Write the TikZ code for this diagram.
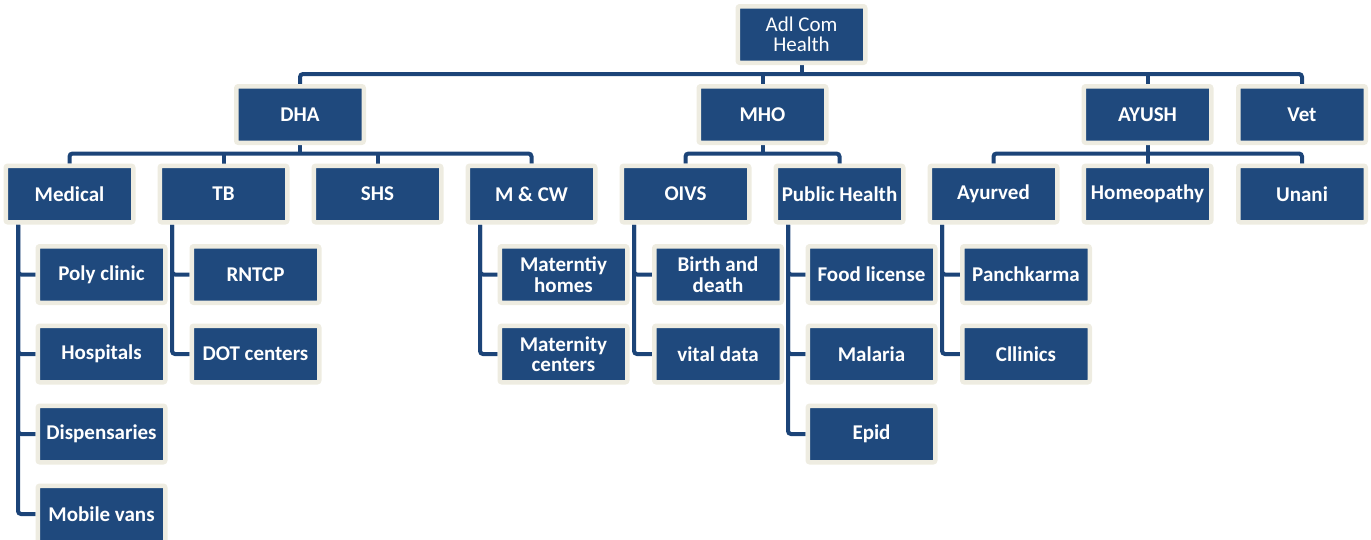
\documentclass[tikz,border=0pt]{standalone}
\usepackage{fontspec}
\setmainfont{Carlito}
\usetikzlibrary{backgrounds,calc}
\definecolor{boxblue}{HTML}{1F497D}
\definecolor{lineblue}{HTML}{1C4478}
\definecolor{cream}{HTML}{EEECE1}
\begin{document}
\begin{tikzpicture}[x=1pt,y=-1pt,
  box/.style={rectangle, rounded corners=2pt, fill=boxblue, draw=cream, line width=4.5pt,
    minimum width=127.5pt, minimum height=56.5pt, inner sep=0pt, text=white,
    font=\fontsize{21}{20.5}\selectfont\bfseries, align=center},
  link/.style={draw=lineblue, line width=4pt, rounded corners=3pt}]
\useasboundingbox (0,0) rectangle (1371,539);
\clip (0,0) rectangle (1371,539);
% root
\node[box, font=\fontsize{21}{20.5}\selectfont] (root) at (801.5,34.5) {Adl Com\\Health};
% level 1
\node[box] (dha) at (300,114.5) {DHA};
\node[box] (mho) at (762.5,114.5) {MHO};
\node[box] (ayush) at (1147.5,114.5) {AYUSH};
\node[box] (vet) at (1302,114.5) {Vet};
% level 2
\node[box] (medical) at (69.5,194) {Medical};
\node[box] (tb) at (223.5,194) {TB};
\node[box] (shs) at (377.5,194) {SHS};
\node[box] (mcw) at (531.5,194) {M \& CW};
\node[box] (oivs) at (685.5,194) {OIVS};
\node[box] (ph) at (839.5,194) {Public Health};
\node[box] (ayurved) at (993.5,194) {Ayurved};
\node[box] (homeo) at (1147.5,194) {Homeopathy};
\node[box] (unani) at (1302,194) {Unani};
% level 3 lists
\node[box] (poly) at (101.5,274.5) {Poly clinic};
\node[box] (hosp) at (101.5,354) {Hospitals};
\node[box] (disp) at (101.5,434) {Dispensaries};
\node[box] (mobile) at (101.5,514) {Mobile vans};
\node[box] (rntcp) at (255.5,274.5) {RNTCP};
\node[box] (dot) at (255.5,354) {DOT centers};
\node[box] (mhomes) at (563.5,274.5) {Materntiy\\homes};
\node[box] (mcent) at (563.5,354) {Maternity\\centers};
\node[box] (birth) at (718,274.5) {Birth and\\death};
\node[box] (vital) at (718,354) {vital data};
\node[box] (food) at (871.5,274.5) {Food license};
\node[box] (malaria) at (871.5,354) {Malaria};
\node[box] (epid) at (871.5,434) {Epid};
\node[box] (panch) at (1026,274.5) {Panchkarma};
\node[box] (clin) at (1026,354) {Cllinics};
\coordinate (bus0) at (801.5,74);
\coordinate (busdha) at (300,153.5);
\coordinate (busmho) at (762.5,153.5);
\coordinate (busay) at (1147.5,153.5);
\begin{scope}[on background layer]
  % top bus
  \draw[link] (root.south) -- (bus0);
  \draw[link] (dha.north) |- (bus0) -| (vet.north);
  \draw[link] (mho.north) -- (mho.north |- bus0);
  \draw[link] (ayush.north) -- (ayush.north |- bus0);
  % DHA children
  \draw[link] (dha.south) -- (busdha);
  \draw[link] (medical.north) |- (busdha) -| (mcw.north);
  \draw[link] (tb.north) -- (tb.north |- busdha);
  \draw[link] (shs.north) -- (shs.north |- busdha);
  % MHO children
  \draw[link] (mho.south) -- (busmho);
  \draw[link] (oivs.north) |- (busmho) -| (ph.north);
  % AYUSH children
  \draw[link] (ayush.south) -- (busay);
  \draw[link] (ayurved.north) |- (busay) -| (unani.north);
  \draw[link] (homeo.north) -- (homeo.north |- busay);
  % lists
  \foreach \p/\c in {medical/poly, medical/hosp, medical/disp, medical/mobile,
                     tb/rntcp, tb/dot, mcw/mhomes, mcw/mcent, oivs/birth, oivs/vital,
                     ph/food, ph/malaria, ph/epid, ayurved/panch, ayurved/clin}
    \draw[link] ($(\p.south)+(-51.5,0)$) |- (\c.west);
\end{scope}
\end{tikzpicture}
\end{document}
